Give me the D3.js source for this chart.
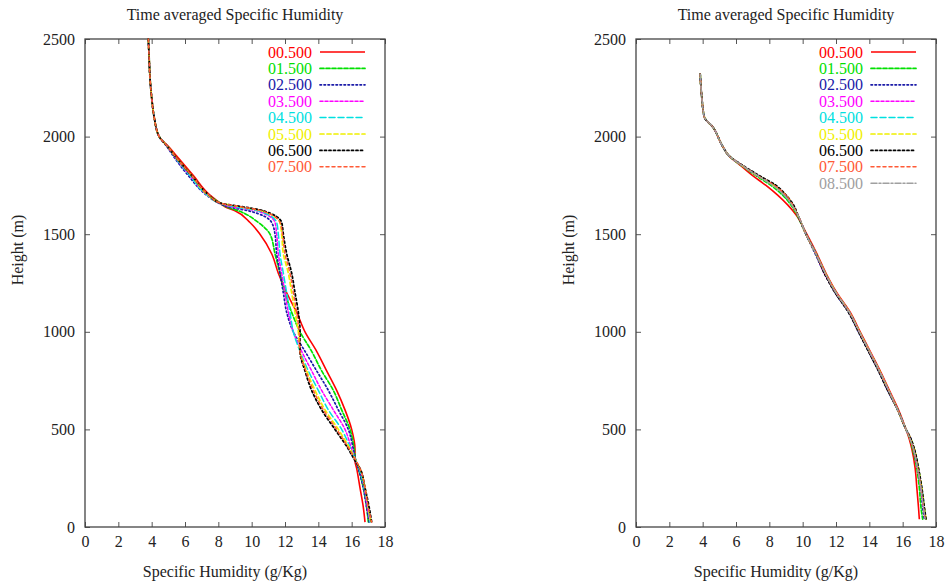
<!DOCTYPE html>
<html>
<head>
<meta charset="utf-8">
<script src="https://cdn.jsdelivr.net/npm/d3@7/dist/d3.min.js"></script>
<style>
  html, body { margin: 0; padding: 0; background: #fff; }
  svg { display: block; }
  text { font-family: "Liberation Serif", "DejaVu Serif", serif; }
</style>
</head>
<body>
<svg id="chart" width="948" height="584"></svg>
<script>
// ---------- DATA ----------
const chartTitle = "Time averaged Specific Humidity";
const xLabel = "Specific Humidity (g/Kg)";
const yLabel = "Height (m)";
const xTicks = [0, 2, 4, 6, 8, 10, 12, 14, 16, 18];
const yTicks = [0, 500, 1000, 1500, 2000, 2500];

const seriesNames = ["00.500", "01.500", "02.500", "03.500", "04.500", "05.500", "06.500", "07.500", "08.500"];

// Left panel heights (m)
const leftHeights = [2500, 2400, 2300, 2200, 2100, 2000, 1950, 1900, 1800, 1700, 1660, 1640, 1620, 1560, 1500, 1400, 1300, 1200, 1100, 1000, 900, 800, 700, 600, 500, 400, 340, 300, 200, 100, 25];
// Left panel specific humidity (g/Kg)
const left00 = [3.8, 3.85, 3.9, 4.0, 4.15, 4.45, 5.0, 5.5, 6.5, 7.5, 8.1, 8.4, 9.0, 9.9, 10.5, 11.2, 11.6, 12.1, 12.7, 13.2, 13.9, 14.5, 15.1, 15.6, 16.0, 16.2, 16.2, 16.3, 16.5, 16.7, 16.8];
const left01 = [3.8, 3.85, 3.9, 4.0, 4.15, 4.45, 4.95, 5.4, 6.4, 7.4, 8.1, 8.5, 9.2, 10.4, 11.1, 11.4, 11.7, 12.0, 12.4, 12.9, 13.6, 14.2, 14.9, 15.4, 15.9, 16.15, 16.25, 16.4, 16.7, 16.9, 17.0];
const left02 = [3.8, 3.85, 3.9, 4.0, 4.15, 4.45, 4.9, 5.3, 6.2, 7.3, 8.0, 8.6, 9.8, 11.2, 11.4, 11.5, 11.7, 11.9, 12.1, 12.5, 13.2, 13.9, 14.6, 15.2, 15.8, 16.1, 16.25, 16.4, 16.7, 16.9, 17.05];
const left03 = [3.8, 3.85, 3.9, 4.0, 4.15, 4.45, 4.95, 5.35, 6.3, 7.35, 8.1, 8.8, 10.3, 11.4, 11.5, 11.6, 11.8, 12.0, 12.2, 12.5, 13.0, 13.6, 14.2, 14.9, 15.6, 16.0, 16.25, 16.45, 16.75, 16.95, 17.1];
const left04 = [3.8, 3.85, 3.9, 4.0, 4.15, 4.45, 4.95, 5.35, 6.3, 7.35, 8.1, 9.0, 10.4, 11.5, 11.6, 11.7, 11.9, 12.1, 12.3, 12.5, 12.9, 13.4, 14.0, 14.6, 15.4, 15.95, 16.25, 16.45, 16.75, 17.0, 17.1];
const left05 = [3.8, 3.85, 3.9, 4.0, 4.15, 4.45, 4.95, 5.4, 6.4, 7.4, 8.1, 9.3, 10.6, 11.7, 11.8, 11.9, 12.2, 12.4, 12.6, 12.8, 12.9, 13.3, 13.8, 14.4, 15.2, 15.9, 16.25, 16.5, 16.8, 17.0, 17.15];
const left06 = [3.8, 3.85, 3.9, 4.0, 4.15, 4.45, 4.95, 5.4, 6.4, 7.45, 8.1, 9.5, 10.7, 11.8, 11.9, 12.1, 12.4, 12.6, 12.8, 12.9, 12.9, 13.2, 13.6, 14.2, 15.0, 15.8, 16.2, 16.5, 16.8, 17.05, 17.2];
const left07 = [3.8, 3.85, 3.9, 4.0, 4.15, 4.45, 4.95, 5.4, 6.4, 7.45, 8.1, 9.4, 10.6, 11.7, 11.85, 12.0, 12.3, 12.5, 12.7, 12.85, 12.9, 13.25, 13.7, 14.3, 15.1, 15.85, 16.25, 16.5, 16.8, 17.0, 17.2];

// Right panel heights (m)
const rightHeights = [2320, 2200, 2100, 2050, 1950, 1900, 1850, 1800, 1750, 1700, 1650, 1600, 1500, 1400, 1300, 1200, 1100, 1000, 900, 800, 700, 600, 500, 450, 400, 300, 200, 100, 40];
const right00 = [3.85, 3.95, 4.1, 4.6, 5.2, 5.6, 6.3, 7.0, 7.8, 8.5, 9.1, 9.6, 10.25, 10.85, 11.4, 12.05, 12.85, 13.45, 14.05, 14.65, 15.2, 15.75, 16.2, 16.4, 16.55, 16.75, 16.85, 16.95, 17.0];
const right01 = [3.85, 3.95, 4.1, 4.6, 5.2, 5.6, 6.35, 7.2, 8.1, 8.8, 9.3, 9.65, 10.2, 10.8, 11.35, 12.0, 12.8, 13.4, 14.0, 14.6, 15.15, 15.7, 16.2, 16.45, 16.6, 16.85, 17.0, 17.1, 17.2];
const right02 = [3.85, 3.95, 4.1, 4.6, 5.2, 5.6, 6.4, 7.3, 8.3, 8.9, 9.4, 9.7, 10.2, 10.75, 11.3, 11.95, 12.75, 13.35, 13.95, 14.55, 15.1, 15.7, 16.2, 16.5, 16.65, 16.9, 17.1, 17.2, 17.3];
const right03 = [3.85, 3.95, 4.1, 4.6, 5.2, 5.6, 6.4, 7.3, 8.3, 9.0, 9.4, 9.7, 10.2, 10.8, 11.3, 12.0, 12.8, 13.4, 14.0, 14.6, 15.15, 15.7, 16.2, 16.5, 16.65, 16.9, 17.1, 17.25, 17.35];
const right04 = [3.85, 3.95, 4.1, 4.6, 5.2, 5.6, 6.4, 7.3, 8.3, 9.0, 9.4, 9.7, 10.2, 10.8, 11.35, 12.0, 12.8, 13.4, 14.0, 14.6, 15.15, 15.7, 16.2, 16.5, 16.7, 16.95, 17.15, 17.3, 17.4];
const right05 = [3.85, 3.95, 4.1, 4.6, 5.2, 5.6, 6.4, 7.3, 8.3, 9.0, 9.4, 9.7, 10.2, 10.8, 11.35, 12.0, 12.8, 13.4, 14.0, 14.6, 15.15, 15.7, 16.2, 16.5, 16.7, 16.95, 17.15, 17.3, 17.4];
const right06 = [3.85, 3.95, 4.1, 4.6, 5.2, 5.6, 6.45, 7.4, 8.4, 9.0, 9.45, 9.7, 10.2, 10.8, 11.3, 11.95, 12.75, 13.35, 13.95, 14.55, 15.1, 15.7, 16.2, 16.5, 16.7, 16.95, 17.15, 17.3, 17.4];
const right07 = [3.85, 3.95, 4.1, 4.6, 5.2, 5.6, 6.4, 7.3, 8.3, 9.0, 9.4, 9.7, 10.2, 10.8, 11.35, 12.0, 12.8, 13.4, 14.0, 14.6, 15.15, 15.7, 16.2, 16.45, 16.65, 16.9, 17.1, 17.25, 17.35];
const right08 = [3.85, 3.95, 4.1, 4.6, 5.2, 5.6, 6.4, 7.3, 8.2, 8.9, 9.35, 9.7, 10.2, 10.8, 11.35, 12.0, 12.8, 13.4, 14.0, 14.6, 15.15, 15.7, 16.2, 16.45, 16.65, 16.9, 17.1, 17.25, 17.35];

// ---------- STYLES ----------
const seriesColors = ["#ff0000", "#00e000", "#1a1aa8", "#ff00ff", "#00e0e0", "#f0f000", "#000000", "#ff5a36", "#a0a0a0"];
const seriesDash = ["none", "4,2", "1.5,2.5", "3,2", "6,3", "4,3", "2,2.5", "3,3", "6,2,2,2"];
const seriesWidth = [1.6, 1.7, 1.7, 1.5, 1.5, 1.7, 1.8, 1.5, 1.5];

const svg = d3.select("#chart");

function drawPanel(opts) {
  const { x0, x1, heights, seriesList } = opts;
  const yTop = 39, yBot = 527;
  const x = d3.scaleLinear().domain([0, 18]).range([x0, x1]);
  const y = d3.scaleLinear().domain([0, 2500]).range([yBot, yTop]);
  const g = svg.append("g");

  const fontSize = "16px";
  const ax = g.append("g").attr("transform", `translate(0,${yBot})`)
    .call(d3.axisBottom(x).tickValues(xTicks).tickSizeInner(-5).tickSizeOuter(0).tickPadding(9).tickFormat(d3.format("d")));
  const at = g.append("g").attr("transform", `translate(0,${yTop})`)
    .call(d3.axisTop(x).tickValues(xTicks).tickSizeInner(-5).tickSizeOuter(0).tickFormat(""));
  const al = g.append("g").attr("transform", `translate(${x0},0)`)
    .call(d3.axisLeft(y).tickValues(yTicks).tickSizeInner(-5).tickSizeOuter(0).tickPadding(10).tickFormat(d3.format("d")));
  const ar = g.append("g").attr("transform", `translate(${x1},0)`)
    .call(d3.axisRight(y).tickValues(yTicks).tickSizeInner(-5).tickSizeOuter(0).tickFormat(""));
  [ax, at, al, ar].forEach(a => {
    a.select(".domain").remove();
    a.selectAll(".tick line").attr("stroke", "#555").attr("stroke-width", 1);
    a.selectAll(".tick text").attr("font-family", "'Liberation Serif', serif")
      .attr("font-size", fontSize).attr("fill", "#222");
  });

  g.append("rect").attr("x", x0).attr("y", yTop).attr("width", x1 - x0).attr("height", yBot - yTop)
    .attr("fill", "none").attr("stroke", "#444").attr("stroke-width", 1.3);

  g.append("text").attr("x", (x0 + x1) / 2).attr("y", 20).attr("text-anchor", "middle")
    .attr("font-size", "16px").attr("fill", "#222").text(chartTitle);
  g.append("text").attr("x", (x0 + x1) / 2 - 10).attr("y", 577).attr("text-anchor", "middle")
    .attr("font-size", "16px").attr("fill", "#222").text(xLabel);
  g.append("text").attr("transform", `translate(${x0 - 62},250) rotate(-90)`).attr("text-anchor", "middle")
    .attr("font-size", "16px").attr("fill", "#222").text(yLabel);

  const line = d3.line().x(d => x(d[0])).y(d => y(d[1])).curve(d3.curveMonotoneY);
  seriesList.forEach((vals, i) => {
    const pts = vals.map((v, k) => [v, heights[k]]);
    g.append("path").datum(pts).attr("d", line)
      .attr("fill", "none").attr("stroke", seriesColors[i]).attr("stroke-width", seriesWidth[i])
      .attr("stroke-dasharray", seriesDash[i]).attr("stroke-linecap", seriesDash[i] === "none" ? "butt" : "round")
      .attr("stroke-linejoin", "round");
  });

  const legTextX = x1 - 73, legLineX0 = x1 - 65, legLineX1 = x1 - 20;
  seriesList.forEach((vals, i) => {
    const ly = 52 + i * 16.4;
    g.append("text").attr("x", legTextX).attr("y", ly).attr("dy", "0.35em").attr("text-anchor", "end")
      .attr("font-size", "16px").attr("fill", seriesColors[i]).text(seriesNames[i]);
    g.append("line").attr("x1", legLineX0).attr("x2", legLineX1).attr("y1", ly).attr("y2", ly)
      .attr("stroke", seriesColors[i]).attr("stroke-width", seriesWidth[i])
      .attr("stroke-dasharray", seriesDash[i]).attr("stroke-linecap", seriesDash[i] === "none" ? "butt" : "round");
  });
}

drawPanel({ x0: 85, x1: 385, heights: leftHeights,
  seriesList: [left00, left01, left02, left03, left04, left05, left06, left07] });
drawPanel({ x0: 636, x1: 936, heights: rightHeights,
  seriesList: [right00, right01, right02, right03, right04, right05, right06, right07, right08] });
</script>
</body>
</html>
